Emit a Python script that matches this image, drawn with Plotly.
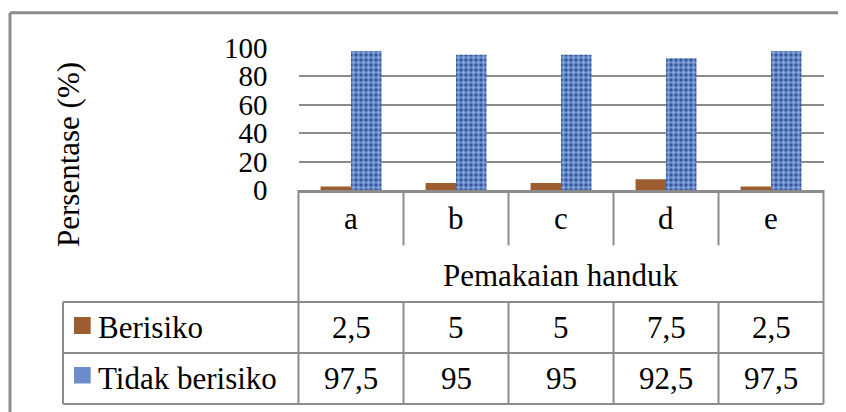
import plotly.graph_objects as go

# ---- data ----
categories = ["a", "b", "c", "d", "e"]
series_names = ["Berisiko", "Tidak berisiko"]
berisiko = [2.5, 5, 5, 7.5, 2.5]
tidak_berisiko = [97.5, 95, 95, 92.5, 97.5]
berisiko_labels = ["2,5", "5", "5", "7,5", "2,5"]
tidak_labels = ["97,5", "95", "95", "92,5", "97,5"]
y_ticks = [0, 20, 40, 60, 80, 100]
x_title = "Pemakaian handuk"
y_title = "Persentase (%)"

W, H = 846, 412
OFF = 8  # page body margin
FONT = "Liberation Serif, Times New Roman, serif"
LINE = "#8c8c8c"
BROWN = "#9e5d2e"
BLUE_BG = "#86a6e0"
BLUE_FG = "#35589a"


def px(x):
    return (x - OFF) / W


def py(y):
    return 1 - (y - OFF) / H


# plot area in pixels
PL, PR, PT, PB = 298.5, 823.5, 47.5, 190.0

fig = go.Figure()
fig.add_trace(go.Bar(
    x=categories, y=berisiko, name=series_names[0],
    marker=dict(color=BROWN, line=dict(width=0)),
))
fig.add_trace(go.Bar(
    x=categories, y=tidak_berisiko, name=series_names[1],
    marker=dict(color=BLUE_BG, line=dict(width=0),
                pattern=dict(shape=".", fgcolor=BLUE_FG, bgcolor=BLUE_BG,
                             size=5, solidity=0.45, fillmode="replace")),
))

shapes = []


def hline(x0, x1, y, w=2):
    shapes.append(dict(type="line", xref="paper", yref="paper",
                       x0=px(x0), x1=px(x1), y0=py(y), y1=py(y),
                       line=dict(color=LINE, width=w)))


def vline(x, y0, y1, w=2):
    shapes.append(dict(type="line", xref="paper", yref="paper",
                       x0=px(x), x1=px(x), y0=py(y0), y1=py(y1),
                       line=dict(color=LINE, width=w)))


# outer chart border (top and left visible)
hline(10, 850, 12.7, 3)
vline(10, 12.7, 416, 3)

# data table
ncat = len(categories)
colw = (PR - PL) / ncat
ROW_CAT_B = 245.5
ROW1_T, ROW2_T, ROW_B = 302.0, 353.0, 404.0
TL = 63.0
for i in range(ncat + 1):
    xx = PL + i * colw
    if i == 0 or i == ncat:
        vline(xx, PB, ROW_B)
    else:
        vline(xx, PB, ROW_CAT_B)
        vline(xx, ROW1_T, ROW_B)
for yy in (ROW1_T, ROW2_T, ROW_B):
    hline(TL, PR, yy)
vline(TL, ROW1_T, ROW_B)

# legend keys in table
shapes.append(dict(type="rect", xref="paper", yref="paper",
                   x0=px(74), x1=px(90.7), y0=py(334), y1=py(317),
                   fillcolor=BROWN, line=dict(width=0)))
shapes.append(dict(type="rect", xref="paper", yref="paper",
                   x0=px(74), x1=px(90.7), y0=py(383.5), y1=py(367),
                   fillcolor="#6d8ccb", line=dict(width=0)))

annotations = []
tf = dict(family=FONT, size=31, color="black")
for i, c in enumerate(categories):
    annotations.append(dict(x=c, xref="x", y=py(218.5), yref="paper",
                            text=c, showarrow=False, font=tf,
                            xanchor="center", yanchor="middle"))
    annotations.append(dict(x=c, xref="x", y=py((ROW1_T + ROW2_T) / 2), yref="paper",
                            text=berisiko_labels[i], showarrow=False, font=tf,
                            xanchor="center", yanchor="middle"))
    annotations.append(dict(x=c, xref="x", y=py((ROW2_T + ROW_B) / 2), yref="paper",
                            text=tidak_labels[i], showarrow=False, font=tf,
                            xanchor="center", yanchor="middle"))
annotations.append(dict(x=px((PL + PR) / 2), xref="paper", y=py(275), yref="paper",
                        text=x_title, showarrow=False, font=tf,
                        xanchor="center", yanchor="middle"))
annotations.append(dict(x=px(96), xref="paper", y=py((ROW1_T + ROW2_T) / 2), yref="paper",
                        text=series_names[0], showarrow=False, font=tf,
                        xanchor="left", yanchor="middle"))
annotations.append(dict(x=px(96), xref="paper", y=py((ROW2_T + ROW_B) / 2), yref="paper",
                        text=series_names[1], showarrow=False, font=tf,
                        xanchor="left", yanchor="middle"))
annotations.append(dict(x=px(69), xref="paper", y=py(155), yref="paper",
                        text=y_title, showarrow=False, font=tf, textangle=-90,
                        xanchor="center", yanchor="middle"))

fig.update_layout(
    width=W, height=H,
    margin=dict(l=0, r=0, t=0, b=0),
    paper_bgcolor="white", plot_bgcolor="white",
    barmode="group", bargap=0.42, bargroupgap=0,
    showlegend=False,
    shapes=shapes, annotations=annotations,
    font=dict(family=FONT, color="black"),
    xaxis=dict(domain=[px(PL), px(PR)], showticklabels=False, ticks="",
               showgrid=False, showline=True, linecolor=LINE, linewidth=3,
               automargin=False, fixedrange=True),
    yaxis=dict(domain=[py(PB), py(PT)], range=[0, 100], tickvals=y_ticks,
               showgrid=True, gridcolor=LINE, gridwidth=2, zeroline=False,
               showline=False, ticks="", ticklabelstandoff=30,
               tickfont=dict(family=FONT, size=29, color="black"),
               automargin=False, fixedrange=True),
)

fig.write_html("out.html")
